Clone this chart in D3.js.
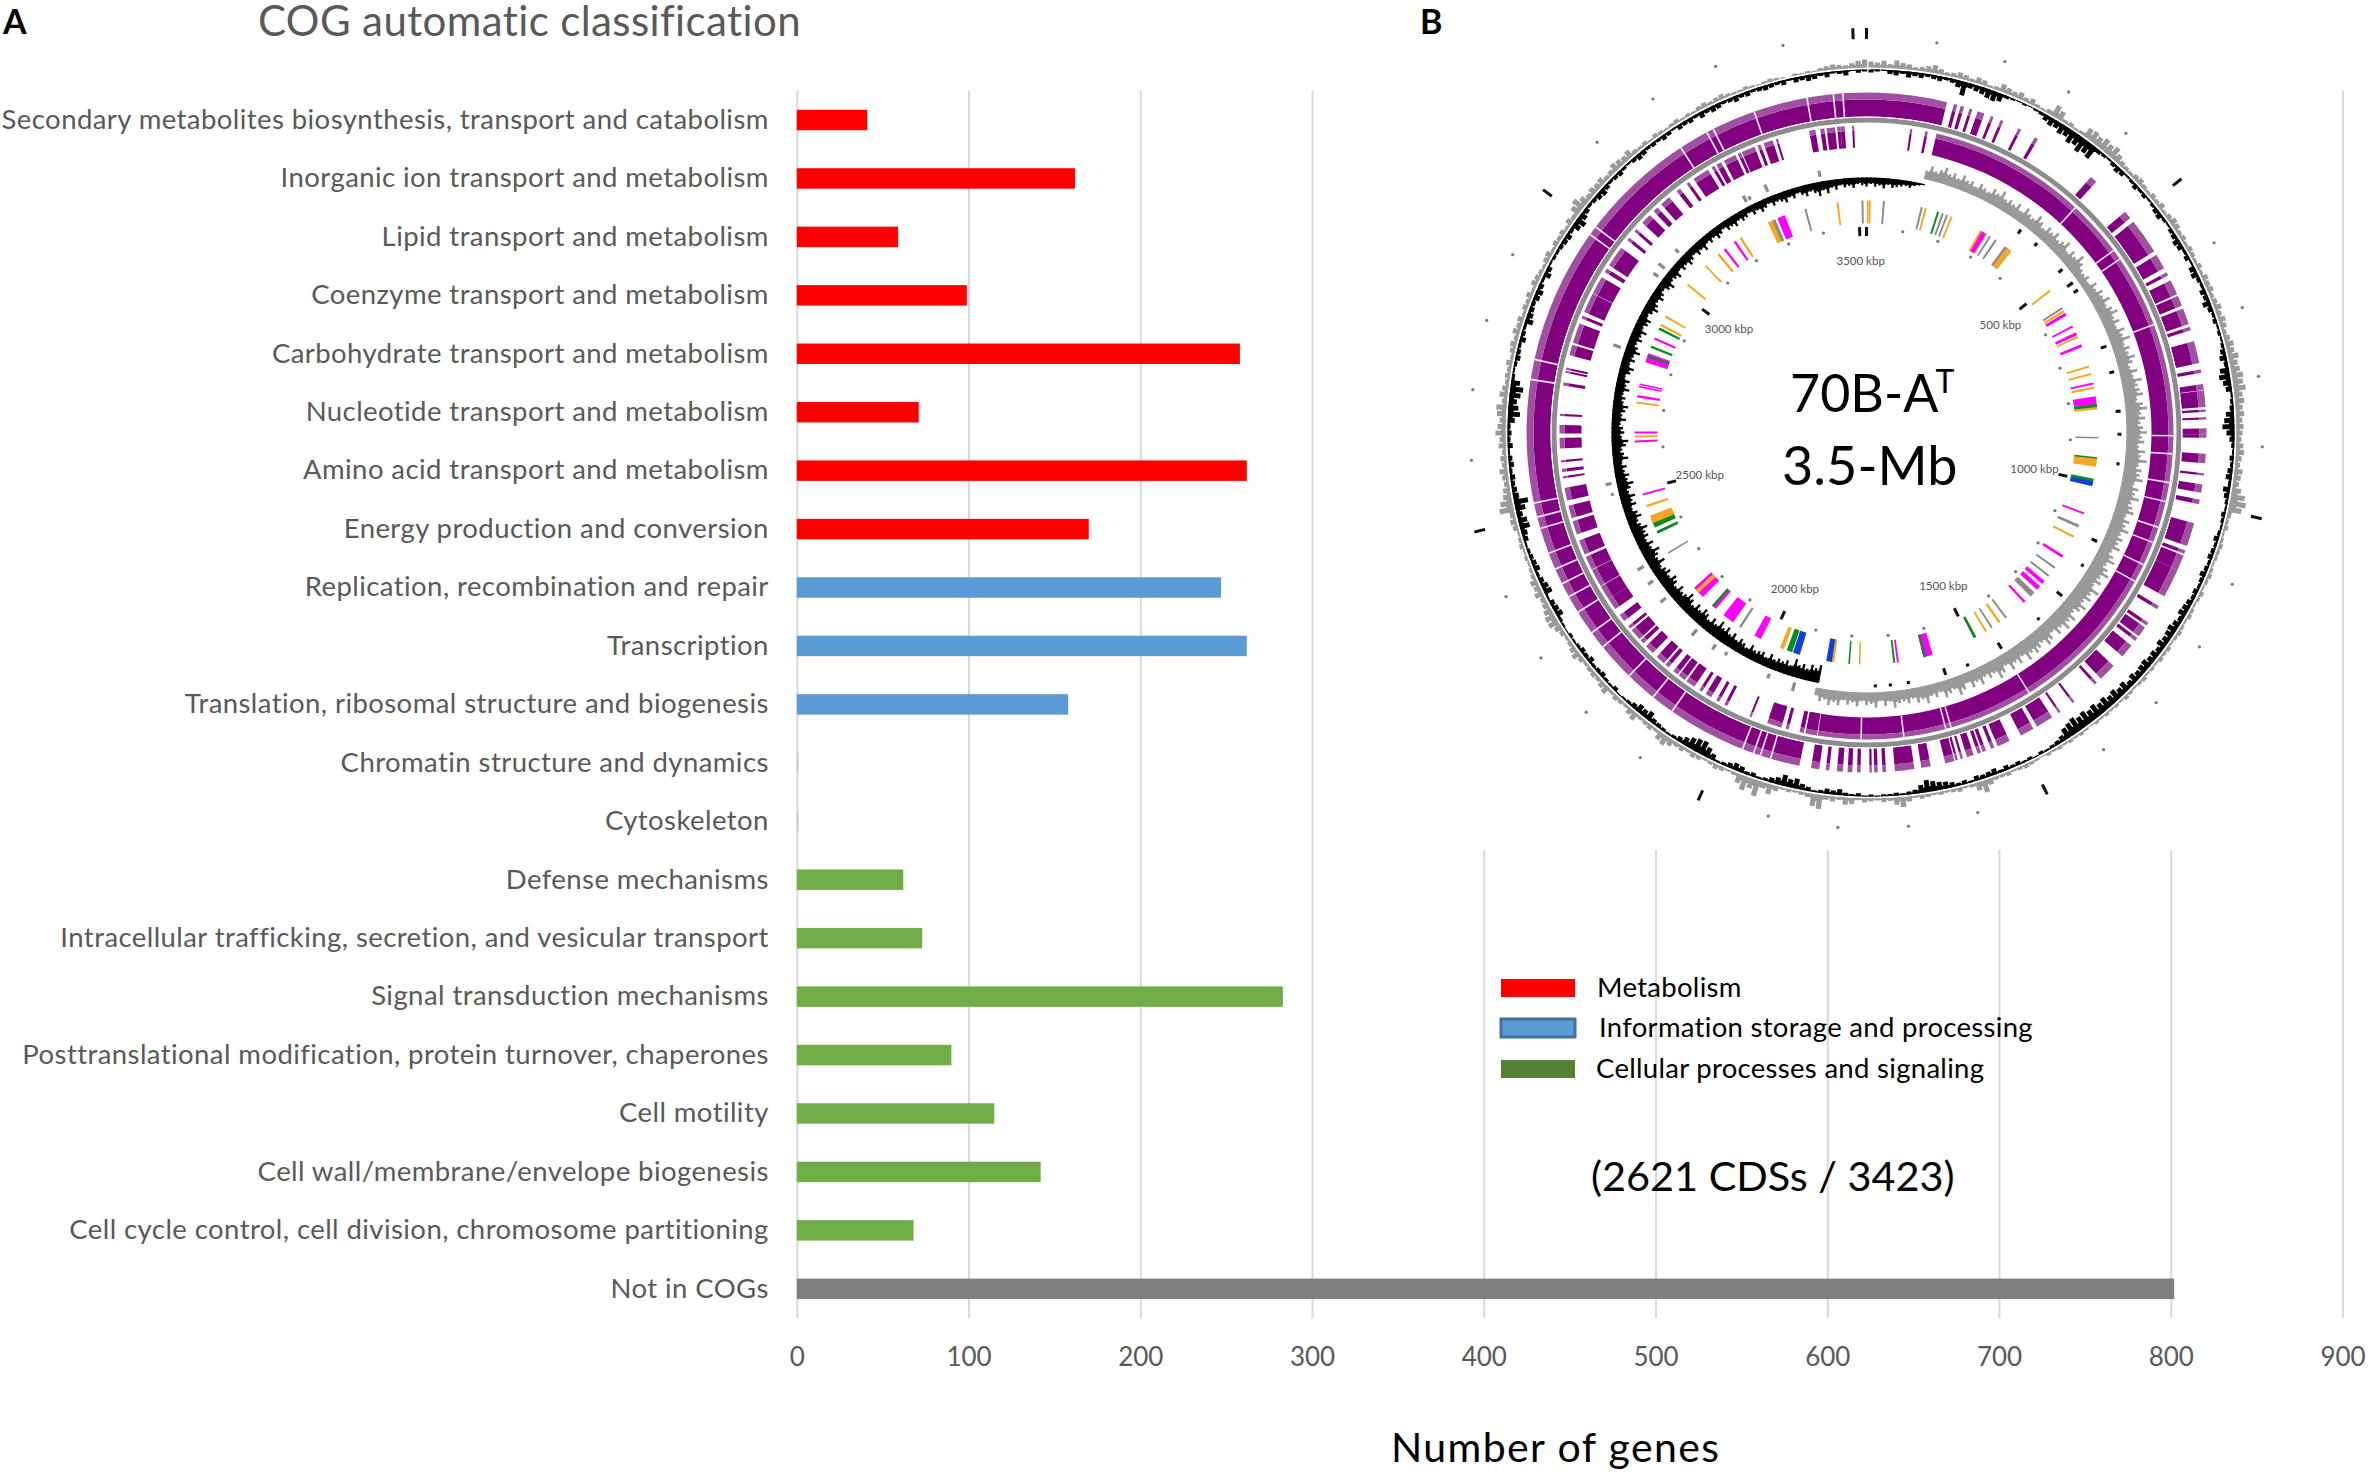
<!DOCTYPE html>
<html><head><meta charset="utf-8">
<script src="https://cdn.jsdelivr.net/npm/d3@7"></script>
<style>html,body{margin:0;padding:0;background:#fff}svg{display:block}text{font-family:Lato,"Open Sans",sans-serif}</style>
</head><body><svg id="c" width="2368" height="1474"></svg>
<script>
const categories=["Secondary metabolites biosynthesis, transport and catabolism","Inorganic ion transport and metabolism","Lipid transport and metabolism","Coenzyme transport and metabolism","Carbohydrate transport and metabolism","Nucleotide transport and metabolism","Amino acid transport and metabolism","Energy production and conversion","Replication, recombination and repair","Transcription","Translation, ribosomal structure and biogenesis","Chromatin structure and dynamics","Cytoskeleton","Defense mechanisms","Intracellular trafficking, secretion, and vesicular transport","Signal transduction mechanisms","Posttranslational modification, protein turnover, chaperones","Cell motility","Cell wall/membrane/envelope biogenesis","Cell cycle control, cell division, chromosome partitioning","Not in COGs"];
const geneCounts=[41,162,59,99,258,71,262,170,247,262,158,1,1,62,73,283,90,115,142,68,802];
const groups=["m","m","m","m","m","m","m","m","i","i","i","c","c","c","c","c","c","c","c","c","n"];
const xTicks=[0,100,200,300,400,500,600,700,800,900];
const legendLabels=["Metabolism","Information storage and processing","Cellular processes and signaling"];
const kbpLabels=[500,1000,1500,2000,2500,3000,3500];

// circular map: positions in degrees clockwise from the top
const outerBlack=[3,2,1,4,5,3,6,4,5,3,
4,5,3,4,7,14,5,6,7,9,
10,8,3,2,1,2,1,2,3,6,
8,7,10,9,13,11,15,12,14,4,
3,2,4,6,5,2,3,5,3,4,
2,3,5,6,3,2,4,5,7,6,
3,5,2,6,7,4,3,6,5,8,
5,3,4,2,3,2,3,5,7,4,
9,11,8,6,2,3,4,8,10,12,
8,5,3,2,4,3,5,6,3,7,
5,3,2,4,3,2,3,5,3,4,
5,3,4,6,4,3,5,4,6,7,
8,5,7,9,8,7,9,6,8,7,
9,8,7,9,6,10,8,11,9,12,
10,13,11,14,12,15,13,11,6,4,
3,2,3,1,3,2,4,3,5,3,
6,5,4,5,2,4,3,5,7,8,
10,12,8,4,3,2,3,2,2,1,
2,1,3,2,3,6,4,5,3,2,
4,6,10,8,11,7,5,3,2,4,
3,6,7,5,3,2,6,10,14,13,
11,8,5,3,2,3,4,5,9,7,
8,5,3,2,1,4,2,3,5,4,
3,6,4,5,3,2,3,1,2,3,
7,6,5,2,8,7,5,3,6,5,
4,3,2,5,6,10,9,6,10,14,
6,5,4,5,3,5,4,2,5,3,
4,3,7,12,10,8,11,13,9,3,
2,3,5,4,3,6,4,3,8,6,
5,4,6,7,5,3,7,5,2,3,
3,4,5,6,4,8,10,7,5,3,
4,6,7,5,3,4,5,3,2,4,
6,5,3,4,3,5,4,2,5,4,
5,3,6,4,6,5,3,4,6,4,
5,3,4,5,4,3,5,2,5,4,
6,5,3,5,2,3,5,1,3,2];
const outerGrey=[6,5,7,4,8,6,5,3,4,6,
8,5,3,4,6,5,3,6,5,2,
3,8,6,5,7,4,6,3,2,4,
12,9,3,4,2,3,10,11,9,12,
10,12,8,5,4,3,5,6,4,3,
5,4,6,3,5,7,6,4,5,3,
5,4,3,5,3,6,5,6,4,5,
7,5,7,6,4,6,8,7,10,8,
9,11,10,12,8,9,7,8,6,7,
6,5,7,8,6,5,8,7,6,9,
14,16,13,4,3,4,2,3,4,3,
3,2,3,4,3,2,4,3,2,3,
4,2,3,4,3,2,4,3,4,2,
3,2,4,3,2,3,4,2,3,2,
3,2,3,1,2,3,2,3,2,3,
2,3,1,2,3,4,3,2,4,3,
3,6,12,8,3,2,4,3,2,3,
2,3,4,2,5,10,7,3,4,2,
3,4,2,6,7,3,5,4,14,12,
4,3,2,3,2,5,10,6,16,10,
14,9,3,2,4,5,3,2,4,5,
3,5,4,7,10,8,3,5,4,3,
8,6,3,4,5,3,8,6,4,5,
4,3,5,8,6,4,3,5,7,10,
10,8,6,5,8,6,7,4,3,2,
3,2,4,3,2,5,6,5,14,12,
8,7,5,6,8,5,6,4,7,6,
10,8,6,9,10,5,8,6,4,5,
4,6,3,5,6,4,7,5,6,3,
5,4,6,3,6,5,4,3,5,6,
3,5,4,5,3,6,4,9,12,8,
5,7,6,7,4,5,8,7,6,8,
4,3,4,2,4,3,2,3,4,2,
3,2,4,5,3,4,5,3,2,2,
3,2,1,2,3,2,1,0,2,1,
2,1,3,4,5,4,3,5,7,8];
const innerBlackStart=191;
const innerBlack=[14,11,13,9,12,10,14,8,11,9,
10,8,11,7,10,9,8,11,7,9,
11,8,12,9,13,10,14,9,12,8,
11,13,9,12,8,11,14,10,9,12,
8,11,13,9,12,10,8,13,9,11,
14,9,12,8,11,10,13,9,8,12,
10,7,11,9,12,8,10,13,9,11,
8,10,7,12,9,8,11,13,8,10,
9,7,11,8,10,12,8,9,7,11,
8,10,6,9,11,7,10,8,12,9,
7,10,8,11,7,9,10,6,8,11,
9,7,10,8,6,9,11,7,8,10,
6,9,7,10,8,6,9,7,10,6,
8,6,9,7,5,8,7,9,6,8,
7,5,8,6,9,7,5,8,6,7,
9,6,8,5,7,9,6,8,11,7,
10,6,8,5,7,6,8,5,6,7,
5,7,6,8,5,7,6,5,4,5,3,2,1];
const innerGreyStart=13;
const innerGrey=[7,11,8,10,13,9,11,8,12,9,
10,7,11,9,8,12,10,14,9,11,
9,12,8,13,10,9,14,11,8,12,
10,13,9,11,14,8,12,10,15,11,
8,7,9,6,11,8,12,10,14,9,
12,15,10,13,9,14,11,16,10,13,
11,15,12,9,14,10,16,12,13,15,
10,14,17,12,15,11,13,16,12,14,
10,15,12,17,11,14,13,16,10,14,
12,16,11,13,15,10,14,12,16,11,
14,12,15,10,13,16,11,14,17,12,
15,11,18,13,16,12,17,14,11,16,
13,17,12,15,10,14,16,11,13,15,
12,16,10,14,11,15,9,13,16,10,
12,9,14,10,13,8,12,15,9,11,
13,8,11,9,14,10,12,8,11,9,
10,13,8,11,7,12,9,10,7,11,
8,10,7,11,9,12,8,10,6];
const fringeGrey=[[-10.3,6],[-22.3,8],[-26.5,4],[-27.5,7],[-46.2,5],[-50.9,8],[-53.2,6],[-70.9,8],[-101.3,6],[-103.7,3],[-121,7],[-124.8,6],[-129.5,7],[-139.3,8],[-144.6,6],[-147.6,4],[-158.1,5],[-164,9]];
const fringeBlack=[[37.3,5],[42,4],[50.2,5],[54,7],[56,5],[70.2,6],[76.2,5],[85.2,5],[90.4,4],[97.1,3],[115.3,6],[121.6,3],[129.9,7],[137.3,3],[148,7],[156.5,3],[161.9,7],[170.5,3],[174.6,3],[178,3]];

const outerSolid=[-168.6,13.7];
const innerSolid=[13.2,191.5];
const outerSolidGaps=[-163.6,-161.8,-160.6,-158.6,-145.1,-141.1,-135.7,-129.1,-126.1,-121.9,-118.9,-116.4,-113.7,-110.8,-106.4,-104.4,-102,-81,-77.6,-54.4,-52.8,-33.1,-28,-26.8,-19.3,-10.1,-5.6,-4];
const innerSolidGaps=[42.9,53.6,55.6,69.4,90.6,94,99.4,103,108,111,115.5,119,148,164,165,173,181,189.3];
// [centre, half width] of each sparse purple gene block
const outerBand=[[15.2,.3],[16.4,.3],[17.9,.25],[19.7,.6],[21.7,.25],[23.5,.25],[26.8,.25],[30,.3],[41.9,.6],[50.2,.7],[53.2,1.5],[56,1.8],[59.8,1.3],[62.2,.3],[64.7,1.3],[67.2,.9],[70,1.4],[72.2,.3],[76.3,1.9],[79.6,.3],[82.3,.5],[84.3,1.4],[86.3,.2],[87.6,.2],[89.8,.5],[90.6,.3],[94.4,.8],[97.1,.2],[99.5,.7],[101.8,.4],[107.5,2],[110.6,.3],[112.5,1.3],[116.3,2.5],[121,.3],[124.3,.3],[125.9,.9],[127.5,.3],[130,1.2],[134.9,1.5],[137.6,.25],[142.5,.2],[145.4,.2],[148.4,1.5],[151.8,1.2],[156.2,1.1],[158.2,.3],[159.7,.3],[160.6,.3],[162.2,.6],[163.7,.2],[164.6,.2],[165.8,.8],[169.9,.8],[172.9,1],[174.3,.9],[177,.3],[178.4,.3],[179.3,.2],[181.3,.3],[182.8,.4],[184.5,.5],[186.6,.3],[188.7,.7]];
const innerBand=[[-170.5,.2],[-169.5,.7],[-167.8,.4],[-165,.3],[-163.5,.3],[-162.5,1.4],[-157.8,.2],[-152.7,.3],[-151,.3],[-149,.6],[-147.3,.3],[-145,.9],[-143,.7],[-141.5,.5],[-139.5,.4],[-137.8,.9],[-135,.9],[-133,.4],[-131.2,1.1],[-129.4,.3],[-127.2,.7],[-124,1.1],[-121.5,1.4],[-118.3,1.7],[-115.2,1.3],[-112,1.4],[-109,.4],[-107.8,1],[-105,1.2],[-101.6,1.2],[-98.4,.2],[-97.1,.3],[-95.4,.2],[-92,1],[-89.4,.8],[-86.7,.2],[-80.9,.3],[-78.6,.2],[-78,.2],[-74.4,1],[-71.1,1.9],[-67.9,.3],[-65,1.9],[-61.3,1.7],[-58.1,.4],[-55,2],[-50.9,.3],[-48.8,.3],[-45.9,1],[-43.4,.5],[-41,1],[-37.8,.4],[-35.6,.3],[-32.7,1.6],[-30,.3],[-28.8,.5],[-26.5,1.2],[-24.5,.3],[-22.7,1.3],[-20.5,.3],[-18.7,.9],[-17,.2],[-10.2,.6],[-8.3,.4],[-6.7,.8],[-5.2,.3],[-4.5,.4],[-2.5,.2],[8.4,.2],[11.3,.25]];
const cogColors={m:"#ff00ff",o:"#f5a623",g:"#8a8a8a",n:"#0a8a1f",b:"#1040d8"};
const cogMarks=[[.8,"o",.25],[4.3,"g",.25],[13.8,"g",.25],[14.8,"o",.25],[18,"n",.25],[19.2,"g",.25],[20.3,"g",.25],[21.5,"o",.25],[30.3,"o",1],[30.4,"m",.6],[32.2,"g",.25],[33.9,"g",.25],[37.6,"g",1],[37.9,"o",.7],[52.3,"o",.25],[57.6,"g",.25],[58.4,"o",.3],[59.3,"m",.4],[62.8,"m",.25],[64.8,"m",.4],[65.7,"o",.25],[68,"m",.35],[73.5,"o",.25],[75.4,"o",.25],[77.8,"m",.25],[78.9,"o",.25],[82,"m",1],[83.4,"n",.5],[84,"o",.3],[91.3,"g",.2],[96.5,"n",.4],[97.5,"o",1],[102,"n",.5],[102.8,"b",.6],[110.4,"m",.25],[113.8,"g",.35],[116.7,"o",.25],[122.3,"m",.35],[125.7,"g",.25],[128.2,"g",.25],[130.3,"m",.5],[132.1,"m",.6],[134.3,"g",.7],[137,"m",.3],[143,"g",.25],[145,"o",.3],[147.3,"g",.25],[149,"o",.25],[152.1,"n",.35],[164.6,"m",1.2],[165.4,"n",.3],[172.2,"m",.25],[173.1,"n",.25],[-178.3,"o",.2],[-175.7,"n",.2],[-171.5,"o",.5],[-170.7,"b",.7],[-162.4,"b",.9],[-160.6,"n",.7],[-158.6,"o",.5],[-152,"m",.9],[-147,"g",.3],[-143.4,"m",1.5],[-139.1,"m",.4],[-138.5,"n",.3],[-133.6,"m",1.6],[-133.2,"o",.5],[-121.3,"g",.2],[-115.5,"n",.35],[-113,"n",1.2],[-112,"o",1],[-108.5,"o",.3],[-105.5,"m",.25],[-92.2,"m",.25],[-91,"o",.25],[-90,"m",.25],[-82.6,"o",.25],[-81,"m",.3],[-78.6,"m",.2],[-78,"m",.2],[-71.6,"g",.2],[-71.2,"m",1.2],[-70.8,"n",.3],[-68.3,"n",.3],[-66.1,"m",.3],[-63.4,"n",.3],[-62.4,"o",.3],[-60,"o",.25],[-50.4,"o",.25],[-44,"o",.25],[-39.7,"o",.3],[-37.7,"m",.3],[-34.6,"m",.3],[-32.9,"o",.3],[-24.2,"o",1],[-23.6,"g",.4],[-21.6,"m",1],[-15.3,"g",.25],[-7.2,"o",.25],[-1,"g",.25],[.3,"o",.2]];

const W=2368,H=1474,svg=d3.select("#c");
svg.append("rect").attr("width",W).attr("height",H).attr("fill","#fff");
const x=d3.scaleLinear().domain([0,900]).range([796.8,2342.5]);
const y=d3.scaleBand().domain(categories).range([90.8,1318]).paddingInner(.65).paddingOuter(.325);
const colors={m:"#ff0000",i:"#5b9bd5",c:"#70ad47",n:"#7f7f7f"};

const gx=svg.append("g").attr("transform","translate(0,1318)")
  .call(d3.axisBottom(x).tickValues(xTicks).tickSize(-1227.2).tickPadding(30).tickFormat(d3.format("d")));
gx.select(".domain").remove();
gx.selectAll("line").attr("stroke","#d9d9d9").attr("stroke-width",2);
gx.selectAll("text").attr("fill","#595959").attr("font-size",26).attr("font-family","Lato");
svg.append("rect").attr("x",1440).attr("y",0).attr("width",890).attr("height",850).attr("fill","#fff");

svg.append("g").selectAll("rect").data(categories).join("rect")
  .attr("x",x(0)).attr("y",d=>y(d)).attr("height",y.bandwidth())
  .attr("width",(d,i)=>x(geneCounts[i])-x(0)).attr("fill",(d,i)=>geneCounts[i]<2?"#c9c9c9":colors[groups[i]]);

const gy=svg.append("g").attr("transform",`translate(${x(0)},0)`)
  .call(d3.axisLeft(y).tickSize(0).tickPadding(28));
gy.select(".domain").remove();
gy.selectAll("text").attr("fill","#595959").attr("font-size",27.5).attr("letter-spacing",.43).attr("font-family","Lato");

const T=(s,px,py,fs,fill,anchor)=>svg.append("text").text(s).attr("x",px).attr("y",py).attr("font-size",fs).attr("fill",fill||"#000").attr("text-anchor",anchor||"start");
T("COG automatic classification",258,36,42,"#595959").attr("letter-spacing",.4);
T("A",3,34,34,"#000").attr("font-weight",700).attr("font-family","Liberation Sans");
T("B",1420,34,34,"#000").attr("font-weight",700).attr("font-family","Liberation Sans");
T("Number of genes",1391,1462,41,"#000").attr("letter-spacing",1.4);
T("(2621 CDSs / 3423)",1591,1191,41.4,"#000");

const legendColors=["#ff0000","#5b9bd5","#548235"],legendX=[1597,1599,1596],legendY=[997,1037,1078];
legendLabels.forEach((l,i)=>{
  svg.append("rect").attr("x",1501).attr("y",legendY[i]-18).attr("width",74).attr("height",18).attr("fill",legendColors[i])
    .attr("stroke",i==1?"#41719c":"none").attr("stroke-width",i==1?3:0);
  T(l,legendX[i],legendY[i],27.5,"#000").attr("letter-spacing",.3);
});

// circular map
const rad=d3.scaleLinear().domain([0,360]).range([0,2*Math.PI]);
const kb=d3.scaleLinear().domain([0,3519]).range([0,2*Math.PI]);
const innerH=d3.scaleLinear().domain([0,18]).range([0,23]);
const map=svg.append("g").attr("transform","translate(1866.5,432.5)");
const arc=d3.arc();
const wedge=(g,r0,r1,a0,a1,fill)=>g.append("path").attr("d",arc({innerRadius:r0,outerRadius:r1,startAngle:rad(a0),endAngle:rad(a1)})).attr("fill",fill);
const PURPLE="#800080",LIGHT="#a050a0";
function purple(g,r0,rm,r1,a0,a1){wedge(g,r0,rm,a0,a1,PURPLE);wedge(g,rm,r1,a0,a1,LIGHT);}
// one radial tooth per value, over an optional solid core: ragged histogram edge
function teeth(g,vals,start,base,sign,width,fill,core,h){
  const H=h||(d=>d);
  const parts=vals.map((v,i)=>{
    const a=start+i,e=base+sign*H(v);
    return arc({innerRadius:Math.min(base,e),outerRadius:Math.max(base,e),startAngle:rad(a-width/2),endAngle:rad(a+width/2)});
  });
  g.append("path").attr("d",parts.join("")).attr("fill",fill);
  if(core){
    const area=d3.areaRadial().angle((d,i)=>rad(start+i)).innerRadius(base).outerRadius(d=>base+sign*H(d)*core).curve(d3.curveLinear)(vals);
    g.append("path").attr("d",area).attr("fill",fill);
  }
}
const outerGroup=svg.append("g").attr("transform","translate(1871,433)");
teeth(outerGroup,outerGrey,0,365.5,1,.8,"#9a9a9a",.5);
teeth(outerGroup,outerBlack,0,363.5,-1,.8,"#000",.5);

// outer and inner gene bands
const bandA=[316,333,340],bandB=[285,302,307];
purple(map,bandA[0],bandA[1],bandA[2],outerSolid[0],outerSolid[1]);
outerSolidGaps.forEach(a=>wedge(map,bandA[0],bandA[2],a-.15,a+.15,"#f3dff3"));
purple(map,bandB[0],bandB[1],bandB[2],innerSolid[0],innerSolid[1]);
innerSolidGaps.forEach(a=>wedge(map,bandB[0],bandB[2],a-.15,a+.15,"#f3dff3"));
outerBand.forEach(([c,h])=>purple(map,bandA[0],bandA[1],bandA[2],c-h,c+h));
innerBand.forEach(([c,h])=>purple(map,bandB[0],bandB[1],bandB[2],c-h,c+h));
map.append("circle").attr("r",312.5).attr("fill","none").attr("stroke","#8c8c8c").attr("stroke-width",5);
map.append("circle").attr("r",315.5).attr("fill","none").attr("stroke","#fff").attr("stroke-width",1);

// inner GC plot
teeth(map,innerGrey,innerGreyStart,260,1,.55,"#999",.75,innerH);
teeth(map,innerBlack,innerBlackStart,255,-1,.55,"#000",.75,innerH);
fringeGrey.forEach(([a,l])=>wedge(map,260,260+l,a-.35,a+.35,"#8a8a8a"));
fringeBlack.forEach(([a,l])=>wedge(map,255-l,255,a-.35,a+.35,"#111"));

// COG coloured marks
cogMarks.forEach(([a,c,h])=>wedge(map,209,232,a-h,a+h,cogColors[c]));

// scale marks
const majors=d3.range(0,3501,500),minors=d3.range(100,3501,100).filter(k=>k%500);
const polar=(k,r)=>[r*Math.sin(kb(k)),-r*Math.cos(kb(k))];
[[399,5.5],[201,4.5]].forEach(([r,l])=>majors.forEach(k=>{
  const [x1,y1]=polar(k,r-l),[x2,y2]=polar(k,r+l);
  map.append("line").attr("x1",x1).attr("y1",y1).attr("x2",x2).attr("y2",y2).attr("stroke","#111").attr("stroke-width",3);
}));
[396,204].forEach(r=>minors.forEach(k=>{
  const [cx,cy]=polar(k,r);
  map.append("circle").attr("cx",cx).attr("cy",cy).attr("r",1.6).attr("fill","#777");
}));
kbpLabels.forEach(k=>{
  const [cx,cy]=polar(k,172);
  map.append("text").text(k+" kbp").attr("x",cx).attr("y",cy+4).attr("text-anchor","middle").attr("font-size",11.5).attr("fill","#555").attr("font-family","Open Sans");
});

const t1=T("70B-A",1790,412,52,"#000");
t1.append("tspan").text("T").attr("font-size",32).attr("dy",-19).attr("dx",-3);
T("3.5-Mb",1782,485,54,"#000");
</script></body></html>
